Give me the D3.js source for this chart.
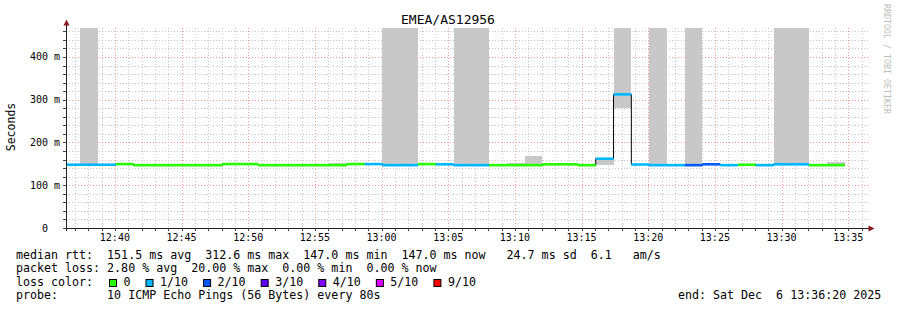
<!DOCTYPE html>
<html><head><meta charset="utf-8">
<script src="https://cdn.jsdelivr.net/npm/d3@7"></script>
<style>
html,body{margin:0;padding:0;background:#fff;}
svg{display:block;}
text{font-family:"DejaVu Sans Mono",monospace;white-space:pre;}
</style></head>
<body><svg id="chart" width="897" height="310"></svg>
<script>
// ---------------- data ----------------
const title = "EMEA/AS12956";
const startTime = new Date(2025, 11, 6, 12, 36, 20);
const endTime = new Date(2025, 11, 6, 13, 36, 20);
const firstStepEnd = new Date(2025, 11, 6, 12, 37, 24);
const stepSeconds = 80;
// median rtt per 80 s step (ms)
const medianMs = [148,148,148,149.5,147,147,147,147,147,149.5,149.5,147,147,147,147,147,149.5,149.5,147,147,
  149.5,149,147,147,147,147,147,149,149,147,162,312.6,148.5,147,147,147,149,147,148,147,149,149,147,147];
// lost pings out of 10 per step
const lossCount = [1,1,1,0,0,0,0,0,0,0,0,0,0,0,0,0,0,1,1,1,0,1,1,1,0,0,0,0,0,0,1,1,1,1,1,2,2,1,0,1,1,1,0,0];
// smoke range (ms); 600 = beyond the top of the chart
const smokeLo = [null,149,null,null,null,null,null,null,null,148,null,null,null,null,null,148,null,null,148,148,
  null,null,148,148,null,148,148,null,null,148,147.5,281,null,148,null,148,null,null,null,null,149,149,null,148];
const smokeHi = [null,600,null,null,null,null,null,null,null,152,null,null,null,null,null,151,null,null,600,600,
  null,null,600,600,null,152.8,169,null,null,150.5,162,600,null,600,null,600,null,null,null,null,600,600,null,154];
const yTicks = [0, 100, 200, 300, 400];
const yTickLabels = ["0", "100 m", "200 m", "300 m", "400 m"];
const lossLevels = [0, 1, 2, 3, 4, 5, 9];
const lossLabels = ["0", "1/10", "2/10", "3/10", "4/10", "5/10", "9/10"];
const lossColors = ["#26ff00", "#00b8ff", "#0059ff", "#5e00ff", "#7e00ff", "#dd00ff", "#ff0000"];
const statsLine1 = "median rtt:  151.5 ms avg  312.6 ms max  147.0 ms min  147.0 ms now   24.7 ms sd  6.1   am/s";
const statsLine2 = "packet loss: 2.80 % avg  20.00 % max  0.00 % min  0.00 % now";
const probeLine = "probe:       10 ICMP Echo Pings (56 Bytes) every 80s";
const endLine = "end: Sat Dec  6 13:36:20 2025";
const yMaxMs = 467.8;

// ---------------- drawing ----------------
const svg = d3.select("#chart");
svg.append("rect").attr("width", 897).attr("height", 310).attr("fill", "#fff");

const x = d3.scaleTime().domain([startTime, endTime]).range([66, 866]);
const y = d3.scaleLinear().domain([0, yMaxMs]).range([228, 28]);
const colorOf = d3.scaleOrdinal().domain(lossLevels).range(lossColors);

const steps = medianMs.map((m, i) => {
  const e = new Date(firstStepEnd.getTime() + i * stepSeconds * 1000);
  let s = new Date(e.getTime() - stepSeconds * 1000);
  if (s < startTime) s = startTime;
  return {s, e, m, loss: lossCount[i], lo: smokeLo[i], hi: smokeHi[i]};
});

// grid
const minutes = d3.timeMinute.range(d3.timeMinute.ceil(startTime), endTime);
const minorMin = minutes.filter(d => d.getMinutes() % 5 !== 0);
const majorMin = minutes.filter(d => d.getMinutes() % 5 === 0);
const yMinor = d3.range(20, yMaxMs, 20).filter(v => v % 100 !== 0);
const yMajor = yTicks.filter(v => v > 0);
const grid = svg.append("g").attr("shape-rendering", "crispEdges");
const minorCol = "#c4c4c4", majorCol = "#f09a9a";
grid.selectAll(".vmin").data(minorMin).join("line")
  .attr("x1", d => Math.round(x(d)) + 0.5).attr("x2", d => Math.round(x(d)) + 0.5)
  .attr("y1", 28).attr("y2", 228).attr("stroke", minorCol).attr("stroke-dasharray", "1,2");
grid.selectAll(".hmin").data(yMinor).join("line")
  .attr("y1", d => Math.round(y(d)) + 0.5).attr("y2", d => Math.round(y(d)) + 0.5)
  .attr("x1", 66).attr("x2", 868).attr("stroke", minorCol).attr("stroke-dasharray", "1,2");
grid.selectAll(".vmaj").data(majorMin).join("line")
  .attr("x1", d => Math.round(x(d)) + 0.5).attr("x2", d => Math.round(x(d)) + 0.5)
  .attr("y1", 28).attr("y2", 228).attr("stroke", majorCol).attr("stroke-dasharray", "1,2");
grid.selectAll(".hmaj").data(yMajor).join("line")
  .attr("y1", d => Math.round(y(d)) + 0.5).attr("y2", d => Math.round(y(d)) + 0.5)
  .attr("x1", 66).attr("x2", 868).attr("stroke", majorCol).attr("stroke-dasharray", "1,2");

// smoke
const clampY = v => y(Math.min(v, yMaxMs));
svg.append("g").attr("shape-rendering", "crispEdges").selectAll("rect")
  .data(steps.filter(d => d.lo != null)).join("rect")
  .attr("x", d => x(d.s)).attr("width", d => x(d.e) - x(d.s))
  .attr("y", d => clampY(d.hi)).attr("height", d => clampY(d.lo) - clampY(d.hi))
  .attr("fill", "#c8c8c8");

// black median step line
const pts = steps.map(d => [x(d.s), y(d.m)]);
pts.push([x(steps[steps.length - 1].e), y(steps[steps.length - 1].m)]);
svg.append("path").attr("d", d3.line().curve(d3.curveStepAfter)(pts))
  .attr("fill", "none").attr("stroke", "#000").attr("stroke-width", 1);

// coloured median segments
svg.append("g").selectAll("line").data(steps).join("line")
  .attr("x1", d => x(d.s)).attr("x2", d => x(d.e))
  .attr("y1", d => y(d.m)).attr("y2", d => y(d.m))
  .attr("stroke", d => colorOf(d.loss)).attr("stroke-width", 2.6);

// axes
const ax = svg.append("g").attr("shape-rendering", "crispEdges");
ax.append("line").attr("x1", 66.5).attr("x2", 66.5).attr("y1", 24).attr("y2", 231).attr("stroke", "#222");
ax.append("line").attr("x1", 63).attr("x2", 869).attr("y1", 228.5).attr("y2", 228.5).attr("stroke", "#222");
ax.selectAll(".tx").data(minutes).join("line")
  .attr("x1", d => Math.round(x(d)) + 0.5).attr("x2", d => Math.round(x(d)) + 0.5)
  .attr("y1", 229).attr("y2", 231).attr("stroke", "#444");
ax.selectAll(".ty").data(d3.range(0, yMaxMs, 20)).join("line")
  .attr("y1", d => Math.round(y(d)) + 0.5).attr("y2", d => Math.round(y(d)) + 0.5)
  .attr("x1", 63).attr("x2", 66).attr("stroke", "#444");
svg.append("path").attr("d", "M63.5,25.5 L66.5,19.5 L69.5,25.5 Z").attr("fill", "#8b1a1a");
svg.append("path").attr("d", "M868.5,225.5 L874.5,228.5 L868.5,231.5 Z").attr("fill", "#8b1a1a");

// tick labels
svg.append("g").selectAll("text").data(yTicks).join("text")
  .attr("x", 45).attr("y", d => y(d) + 3.5).attr("text-anchor", "middle")
  .attr("font-size", 10).attr("fill", "#000").text((d, i) => yTickLabels[i]);
svg.append("g").selectAll("text").data(majorMin).join("text")
  .attr("x", d => x(d)).attr("y", 240.5).attr("text-anchor", "middle")
  .attr("font-size", 10).attr("fill", "#000").text(d3.timeFormat("%H:%M"));

// title, axis label, watermark
svg.append("text").attr("x", 448).attr("y", 24).attr("text-anchor", "middle")
  .attr("font-size", 13).attr("fill", "#000").text(title);
svg.append("text").attr("transform", "translate(15,127) rotate(-90)").attr("text-anchor", "middle")
  .attr("font-size", 11.5).attr("fill", "#000").text("Seconds");
svg.append("text").attr("transform", "translate(884,4) rotate(90)").attr("text-anchor", "start")
  .attr("font-size", 8.3).attr("fill", "#bdbdbd").text("RRDTOOL / TOBI OETIKER");

// legend
const lf = 11.65;
svg.append("text").attr("x", 16).attr("y", 258.5).attr("font-size", lf).text(statsLine1);
svg.append("text").attr("x", 16).attr("y", 272).attr("font-size", lf).text(statsLine2);
svg.append("text").attr("x", 16).attr("y", 285.5).attr("font-size", lf).text("loss color:");
let lx = 109;
lossLabels.forEach((lab, i) => {
  svg.append("rect").attr("x", lx + 0.5).attr("y", 279.5).attr("width", 7).attr("height", 7)
    .attr("fill", lossColors[i]).attr("stroke", "#000").attr("stroke-width", 1);
  svg.append("text").attr("x", lx + 14.5).attr("y", 285.5).attr("font-size", lf).text(lab);
  lx += 14.5 + lab.length * 7.02 + 15;
});
svg.append("text").attr("x", 16).attr("y", 299).attr("font-size", lf).text(probeLine);
svg.append("text").attr("x", 678).attr("y", 299).attr("font-size", lf).text(endLine);
</script></body></html>
